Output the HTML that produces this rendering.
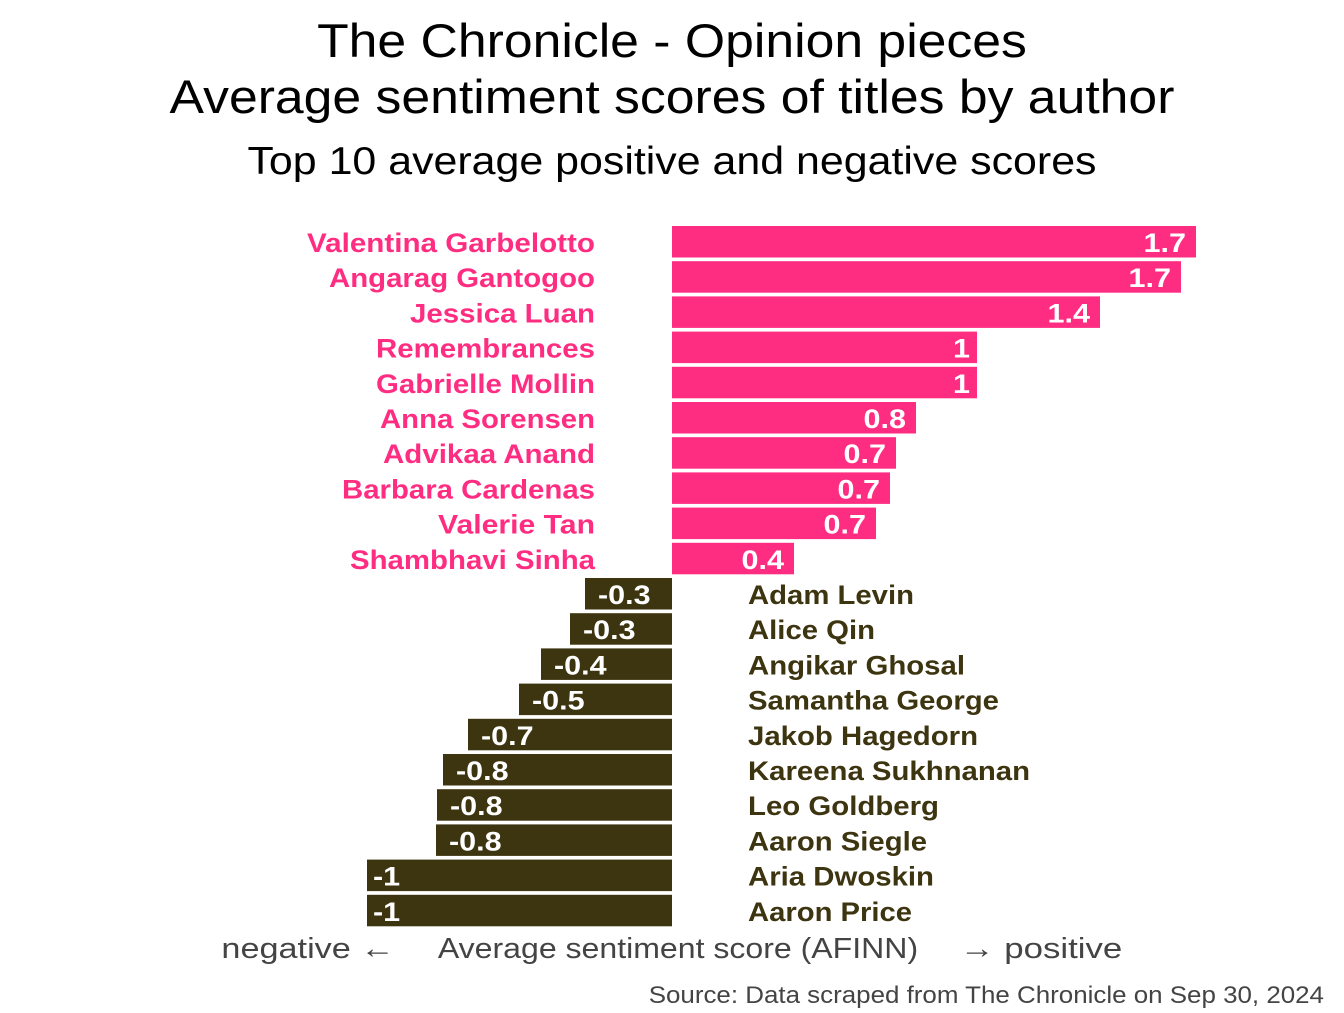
<!DOCTYPE html><html><head><style>
body{margin:0;width:1344px;height:1008px;background:#fff;overflow:hidden;font-family:"Liberation Sans",sans-serif}
</style></head><body>
<svg id="s" width="1344" height="1008" xmlns="http://www.w3.org/2000/svg" font-family="Liberation Sans, sans-serif">
<text x="672" y="57" font-size="47" text-anchor="middle" data-f="1.1">The Chronicle - Opinion pieces</text>
<text x="672" y="113" font-size="47" text-anchor="middle" data-f="1.1">Average sentiment scores of titles by author</text>
<text x="672" y="174" font-size="39" text-anchor="middle" data-f="1.1">Top 10 average positive and negative scores</text>
<g id="bars"></g>
<text x="308" y="958" font-size="29" fill="#444" text-anchor="middle" data-f="1.18">negative ←</text>
<text x="678" y="958" font-size="29" fill="#444" text-anchor="middle" data-f="1.105">Average sentiment score (AFINN)</text>
<text x="1041" y="958" font-size="29" fill="#444" text-anchor="middle" data-f="1.2">→ positive</text>
<text x="1324" y="1003" font-size="24" fill="#444" text-anchor="end" data-f="1.08">Source: Data scraped from The Chronicle on Sep 30, 2024</text>
</svg>
<script>
var pos=[["Valentina Garbelotto",1196,"1.7",307],["Angarag Gantogoo",1181,"1.7",329],["Jessica Luan",1100,"1.4",410],["Remembrances",977,"1",376],["Gabrielle Mollin",977,"1",376],["Anna Sorensen",916,"0.8",380],["Advikaa Anand",896,"0.7",383],["Barbara Cardenas",890,"0.7",342],["Valerie Tan",876,"0.7",438],["Shambhavi Sinha",794,"0.4",350]];
var neg=[["Adam Levin",585,"-0.3",914],["Alice Qin",570,"-0.3",875],["Angikar Ghosal",541,"-0.4",965],["Samantha George",519,"-0.5",999],["Jakob Hagedorn",468,"-0.7",978],["Kareena Sukhnanan",443,"-0.8",1030],["Leo Goldberg",437,"-0.8",939],["Aaron Siegle",436,"-0.8",927],["Aria Dwoskin",367,"-1",934],["Aaron Price",367,"-1",912]];
var s="";
pos.forEach(function(d,i){var t=226+35.2*i;
s+='<rect x="672" y="'+t+'" width="'+(d[1]-672)+'" height="31.5" fill="#FF2D82"/>';
s+='<text x="'+(d[1]-(d[2]=="1"?7:10))+'" y="'+(t+26)+'" font-size="27" font-weight="bold" fill="#fff" text-anchor="end" data-f="1.13">'+d[2]+'</text>';
s+='<text x="595" y="'+(t+26)+'" font-size="27" font-weight="bold" fill="#FF2D82" text-anchor="end" textLength="'+(595-d[3])+'" lengthAdjust="spacingAndGlyphs">'+d[0]+'</text>';});
neg.forEach(function(d,i){var t=226+35.2*(i+10);
s+='<rect x="'+d[1]+'" y="'+t+'" width="'+(672-d[1])+'" height="31.5" fill="#3D3410"/>';
s+='<text x="'+(d[1]+(d[2]=="-1"?6:13))+'" y="'+(t+26)+'" font-size="27" font-weight="bold" fill="#fff" data-f="1.13">'+d[2]+'</text>';
s+='<text x="748" y="'+(t+26)+'" font-size="27" font-weight="bold" fill="#3D3410" textLength="'+(d[3]-748)+'" lengthAdjust="spacingAndGlyphs">'+d[0]+'</text>';});
document.getElementById("bars").innerHTML=s;
document.querySelectorAll("text[data-f]").forEach(function(e){var f=parseFloat(e.getAttribute("data-f"));var w=e.getComputedTextLength()*f;e.setAttribute("textLength",w);e.setAttribute("lengthAdjust","spacingAndGlyphs");e.removeAttribute("data-f");});
</script>
</body></html>
